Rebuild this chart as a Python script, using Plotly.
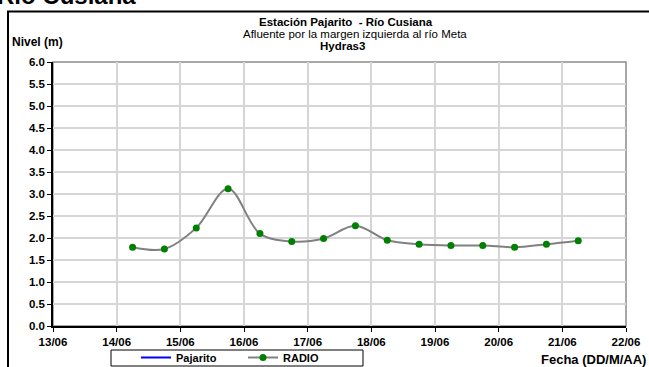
import plotly.graph_objects as go

# ---- data ----
times = ["2015-06-14 06:00", "2015-06-14 18:00", "2015-06-15 06:00", "2015-06-15 18:00",
         "2015-06-16 06:00", "2015-06-16 18:00", "2015-06-17 06:00", "2015-06-17 18:00",
         "2015-06-18 06:00", "2015-06-18 18:00", "2015-06-19 06:00", "2015-06-19 18:00",
         "2015-06-20 06:00", "2015-06-20 18:00", "2015-06-21 06:00"]
radio = [1.79, 1.75, 2.23, 3.12, 2.10, 1.92, 1.99, 2.28, 1.95, 1.86, 1.83, 1.83, 1.79, 1.86, 1.94]
pajarito_x = ["2015-06-14 06:00", "2015-06-14 18:00"]
pajarito_y = [None, None]
x_range = ["2015-06-13", "2015-06-22"]
y_ticks = [0, 0.5, 1, 1.5, 2, 2.5, 3, 3.5, 4, 4.5, 5, 5.5, 6]

W, H = 649, 367
L, R, T, B = 53, 23, 62, 41
PW, PH = W - L - R, H - T - B


def px(x):
    return (x - L) / PW


def py(y):
    return (H - B - y) / PH


FONT = "Liberation Sans, Arial, sans-serif"

fig = go.Figure()
fig.add_trace(go.Scatter(x=pajarito_x, y=pajarito_y, mode="lines", name="Pajarito",
                         line=dict(color="#0000ff", width=2), connectgaps=False))
fig.add_trace(go.Scatter(x=times, y=radio, mode="lines+markers", name="RADIO",
                         line=dict(color="#808080", width=2, shape="spline", smoothing=1),
                         marker=dict(color="#008000", size=7)))

fig.update_layout(
    width=W, height=H,
    margin=dict(l=L, r=R, t=T, b=B, pad=0, autoexpand=False),
    paper_bgcolor="white", plot_bgcolor="white",
    font=dict(family=FONT, size=11, color="black"),
    showlegend=True,
    legend=dict(orientation="h", x=px(136), y=py(343), xanchor="left", yanchor="top",
                borderwidth=0, bgcolor="rgba(0,0,0,0)",
                font=dict(family=FONT, size=11, color="black", weight="bold"),
                entrywidth=62, itemwidth=30, tracegroupgap=0),
    xaxis=dict(type="date", range=x_range, dtick=86400000, tickformat="%d/%m",
               showgrid=True, gridcolor="#d6d6d6", gridwidth=1.5,
               showline=True, linecolor="black", linewidth=1.5,
               ticks="outside", ticklen=4, tickcolor="black", tickwidth=1,
               tickfont=dict(family=FONT, size=11.5, color="black", weight="bold"),
               zeroline=False, fixedrange=True),
    yaxis=dict(range=[0, 6], tickvals=y_ticks, tickformat=".1f",
               showgrid=True, gridcolor="#d6d6d6", gridwidth=1.5,
               showline=True, linecolor="black", linewidth=1.5,
               ticks="outside", ticklen=4, tickcolor="black", tickwidth=1,
               tickfont=dict(family=FONT, size=11.5, color="black", weight="bold"),
               zeroline=False, fixedrange=True),
)

# plot area border (gray top/right)
fig.add_shape(type="rect", xref="paper", yref="paper", x0=0, x1=1, y0=0, y1=1,
              line=dict(color="#8c8c8c", width=1.5), layer="below")
# outer chart frame
fig.add_shape(type="rect", xref="paper", yref="paper", x0=px(8), x1=px(700), y0=py(420), y1=py(11.5),
              line=dict(color="black", width=2), layer="above")
# legend box
fig.add_shape(type="rect", xref="paper", yref="paper", x0=px(111), x1=px(363), y0=py(366), y1=py(350),
              line=dict(color="black", width=1), layer="above")

ann = []
ann.append(dict(text="<b>Río Cusiana</b>", x=px(138), y=py(11), xanchor="right", yanchor="bottom",
                font=dict(family=FONT, size=24, color="black")))
ann.append(dict(text="<b>Estación Pajarito  - Río Cusiana</b>", x=px(346), y=py(21.5),
                xanchor="center", yanchor="middle", font=dict(family=FONT, size=11.5)))
ann.append(dict(text="Afluente por la margen izquierda al río Meta", x=px(355), y=py(33.5),
                xanchor="center", yanchor="middle", font=dict(family=FONT, size=11.5)))
ann.append(dict(text="<b>Hydras3</b>", x=px(342), y=py(45.5),
                xanchor="center", yanchor="middle", font=dict(family=FONT, size=11.5)))
ann.append(dict(text="<b>Nivel (m)</b>", x=px(10), y=py(42), xanchor="left", yanchor="middle",
                font=dict(family=FONT, size=12)))
ann.append(dict(text="<b>Fecha (DD/M/AA)</b>", x=px(648), y=py(359), xanchor="right", yanchor="middle",
                font=dict(family=FONT, size=13)))
for a in ann:
    a.update(xref="paper", yref="paper", showarrow=False)
fig.update_layout(annotations=ann)

fig.write_html("out.html", config={"displayModeBar": False},
               post_script="document.body.style.margin='0';document.body.style.overflow='hidden';")
